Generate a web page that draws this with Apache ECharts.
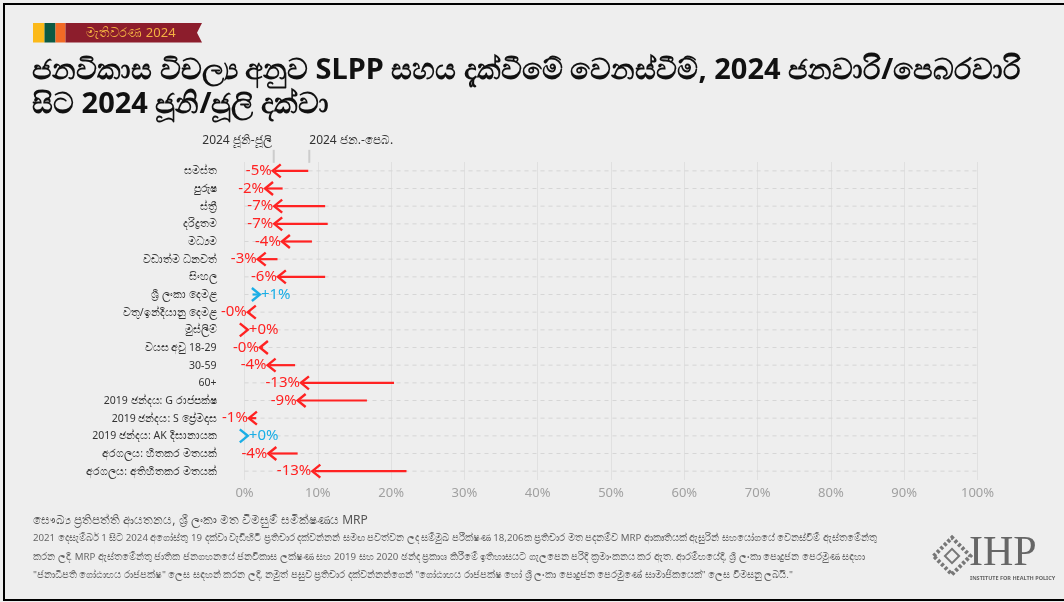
<!DOCTYPE html>
<html>
<head>
<meta charset="utf-8">
<script src="https://cdn.jsdelivr.net/npm/echarts@6/dist/echarts.min.js"></script>
<style>
  html, body { margin: 0; padding: 0; background: #eeeeee; }
  #main { width: 1064px; height: 602px; }
</style>
</head>
<body>
<div id="main"></div>
<script>
// groups, top to bottom
const categories = [
  'සමස්ත', 'පුරුෂ', 'ස්ත්‍රී', 'දරිද්‍රතම', 'මධ්‍යම', 'වඩාත්ම ධනවත්', 'සිංහල',
  'ශ්‍රී ලංකා දෙමළ', 'වතු/ඉන්දියානු දෙමළ', 'මුස්ලිම්', 'වයස අවු 18-29', '30-59', '60+',
  '2019 ඡන්දය: G රාජපක්ෂ', '2019 ඡන්දය: S ප්‍රේමදාස', '2019 ඡන්දය: AK දිසානායක',
  'අරගලය: හිතකර මතයක්', 'අරගලය: අතිහිතකර මතයක්'
];
// SLPP support (%), 2024 Jan/Feb (arrow tail)
const janFeb = [8.7, 5.2, 11.0, 11.35, 9.2, 4.5, 11.0, 1.1, 0.8, 0.2, 2.5, 6.9, 20.4, 16.7, 1.6, 0.2, 7.25, 22.1];
// SLPP support (%), 2024 Jun/Jul (arrow head)
const junJul = [3.85, 2.8, 4.05, 4.05, 5.1, 1.8, 4.55, 2.1, 0.45, 0.45, 2.1, 3.15, 7.7, 7.25, 0.6, 0.45, 3.25, 9.25];
// colour group of each arrow as shown
const tone = ['down', 'down', 'down', 'down', 'down', 'down', 'down', 'up', 'down', 'down',
  'down', 'down', 'down', 'down', 'down', 'up', 'down', 'down'];
const xTicks = [0, 10, 20, 30, 40, 50, 60, 70, 80, 90, 100];

const RED = '#ff2222';
const BLUE = '#1aaee6';
const FONT = '"Noto Sans", Roboto, sans-serif';

let myChart = echarts.init(document.getElementById('main'));

let rows = categories.map(function (c, i) {
  return [i, janFeb[i], junJul[i]];
});

function renderArrow(params, api) {
  let idx = api.value(0);
  let from = api.coord([api.value(1), idx]);
  let to = api.coord([api.value(2), idx]);
  let diff = api.value(2) - api.value(1);
  let dir = diff >= 0 ? 1 : -1;
  let color = tone[idx] === 'up' ? BLUE : RED;
  let lineStart = api.coord([0, idx]);
  let lineEnd = api.coord([100, idx]);
  let y = to[1];
  let label = (diff < 0 ? '-' : '+') + Math.round(Math.abs(diff)) + '%';

  let children = [{
    type: 'line',
    shape: { x1: lineStart[0], y1: y, x2: lineEnd[0], y2: y },
    style: { stroke: '#d6d6d6', lineWidth: 1, lineDash: [4, 4] }
  }, {
    // category name (drawn here so the browser does the right alignment)
    type: 'text',
    style: {
      text: categories[idx], x: lineStart[0] - 28, y: y + 0.5,
      align: 'right', verticalAlign: 'middle',
      fill: '#333', fontSize: 10.5, fontFamily: FONT
    }
  }, {
    type: 'line',
    shape: { x1: from[0], y1: y, x2: to[0] - dir * 2, y2: y },
    style: { stroke: color, lineWidth: 2.2 }
  }, {
    type: 'polyline',
    shape: { points: [[to[0] - dir * 8, y - 6.5], [to[0], y], [to[0] - dir * 8, y + 6.5]] },
    style: { stroke: color, lineWidth: 2.4, fill: null }
  }, {
    type: 'text',
    style: {
      text: label, x: dir < 0 ? to[0] - 1 : to[0] + 1, y: y,
      align: dir < 0 ? 'right' : 'left', verticalAlign: 'middle',
      fill: color, fontSize: 15, fontFamily: FONT
    }
  }];

  // key above the first row
  if (idx === 0) {
    children.push({
      type: 'line',
      shape: { x1: to[0] + 1, y1: y - 21, x2: to[0] + 1, y2: y - 8 },
      style: { stroke: '#cccccc', lineWidth: 2 }
    }, {
      type: 'line',
      shape: { x1: from[0] + 1, y1: y - 21, x2: from[0] + 1, y2: y - 8 },
      style: { stroke: '#cccccc', lineWidth: 2 }
    }, {
      type: 'text',
      style: { text: '2024 ජූනි-ජූලි', x: to[0] - 1, y: y - 30, align: 'right', verticalAlign: 'middle',
        fill: '#333', fontSize: 12, fontFamily: FONT }
    }, {
      type: 'text',
      style: { text: '2024 ජන.-පෙබ.', x: from[0] + 1, y: y - 30, align: 'left', verticalAlign: 'middle',
        fill: '#333', fontSize: 12, fontFamily: FONT }
    });
  }
  return { type: 'group', children: children };
}

var option = {
  backgroundColor: '#eeeeee',
  animation: false,
  textStyle: { fontFamily: FONT },
  grid: { left: 244.5, right: 86.5, top: 162, bottom: 122 },
  xAxis: {
    type: 'value', min: 0, max: 100, interval: 10,
    axisLine: { show: false }, axisTick: { show: false },
    axisLabel: { formatter: '{value}%', color: '#a0a0a0', fontSize: 13, margin: 7,
      customValues: xTicks },
    splitLine: { lineStyle: { color: '#e0e0e0', width: 1 } }
  },
  yAxis: {
    type: 'category', inverse: true, data: categories,
    axisLine: { show: false }, axisTick: { show: false }, splitLine: { show: false },
    axisLabel: { show: false }
  },
  series: [{
    type: 'custom',
    clip: false,
    renderItem: renderArrow,
    encode: { x: [1, 2], y: 0 },
    data: rows
  }],
  graphic: [
    // frame
    { type: 'rect', shape: { x: 3, y: 3, width: 2, height: 598 }, style: { fill: '#000' } },
    { type: 'rect', shape: { x: 3, y: 3, width: 1061, height: 2 }, style: { fill: '#000' } },
    { type: 'rect', shape: { x: 3, y: 599, width: 1061, height: 2 }, style: { fill: '#000' } },
    // series tag
    { type: 'rect', shape: { x: 33, y: 23, width: 11.5, height: 19.5 }, style: { fill: '#fbb919' } },
    { type: 'rect', shape: { x: 44.5, y: 23, width: 11, height: 19.5 }, style: { fill: '#0b5a43' } },
    { type: 'rect', shape: { x: 55.5, y: 23, width: 10, height: 19.5 }, style: { fill: '#f26a25' } },
    { type: 'polygon', shape: { points: [[65.5, 23], [202, 23], [197, 32.75], [202, 42.5], [65.5, 42.5]] },
      style: { fill: '#8c1d2c' } },
    { type: 'text', style: { text: 'මැතිවරණ 2024', x: 131, y: 33, align: 'center', verticalAlign: 'middle',
      fill: '#f4b142', fontSize: 13, fontFamily: FONT } },
    // title
    { type: 'text', style: {
      text: 'ජනවිකාස විචල්‍ය අනුව SLPP සහය දැක්වීමේ වෙනස්වීම්, 2024 ජනවාරි/පෙබරවාරි\nසිට 2024 ජූනි/ජූලි දක්වා',
      x: 32, y: 54, fill: '#111', fontSize: 29, fontWeight: 'bold', lineHeight: 34, fontFamily: FONT } },
    // source and notes
    { type: 'text', style: { text: 'සෞඛ්‍ය ප්‍රතිපත්ති ආයතනය, ශ්‍රී ලංකා මත විමසුම් සමීක්ෂණය MRP',
      x: 33, y: 521, verticalAlign: 'middle', fill: '#555', fontSize: 12, fontFamily: FONT } },
    { type: 'text', style: {
      text: '2021 දෙසැම්බර් 1 සිට 2024 අගෝස්තු 19 දක්වා වැඩිහිටි ප්‍රතිචාර දක්වන්නන් සමඟ පවත්වන ලද සම්මුඛ පරීක්ෂණ 18,206ක ප්‍රතිචාර මත පදනම්ව MRP ආකෘතියක් ඇසුරින් සහයෝගයේ වෙනස්වීම් ඇස්තමේන්තු\n' +
        'කරන ලදී. MRP ඇස්තමේන්තු ජාතික ජනගහනයේ ජනවිකාස ලක්ෂණ සහ 2019 සහ 2020 ඡන්ද ප්‍රකාශ කිරීමේ ඉතිහාසයට ගැලපෙන පරිදි ක්‍රමාංකනය කර ඇත. ආරම්භයේදී, ශ්‍රී ලංකා පොදුජන පෙරමුණ සඳහා\n' +
        '"ජනාධිපති ගෝඨාභය රාජපක්ෂ" ලෙස සඳහන් කරන ලදී, නමුත් පසුව ප්‍රතිචාර දක්වන්නන්ගෙන් "ගෝඨාභය රාජපක්ෂ හෝ ශ්‍රී ලංකා පොදුජන පෙරමුණේ සාමාජිකයෙක්" ලෙස විමසනු ලබයි."',
      x: 33, y: 529, fill: '#666', fontSize: 9.7, lineHeight: 18.5, fontFamily: FONT } },
    // IHP logo
    { type: 'group', x: 952, y: 556, rotation: Math.PI / 4, children: [
      { type: 'rect', shape: { x: -13, y: -13, width: 26, height: 26 }, style: { fill: null, stroke: '#777', lineWidth: 4, lineDash: [3, 2] } },
      { type: 'rect', shape: { x: -5, y: -5, width: 10, height: 10 }, style: { fill: null, stroke: '#777', lineWidth: 2 } }
    ] },
    { type: 'text', style: { text: 'IHP', x: 969, y: 554, verticalAlign: 'middle', fill: '#666',
      fontSize: 42, fontFamily: '"Liberation Serif", serif' } },
    { type: 'text', style: { text: 'INSTITUTE FOR HEALTH POLICY', x: 970, y: 578, verticalAlign: 'middle',
      fill: '#666', fontSize: 5.5, fontWeight: 'bold', fontFamily: FONT } }
  ]
};
myChart.setOption(option);
</script>
</body>
</html>
